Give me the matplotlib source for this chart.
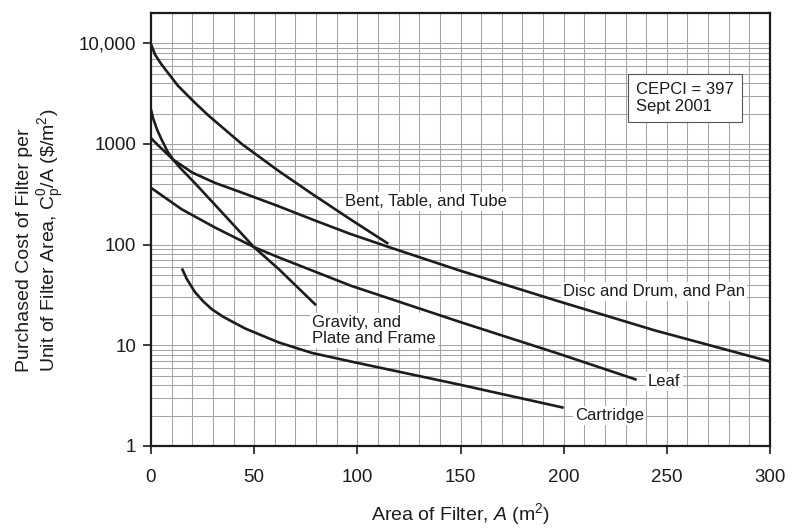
import numpy as np
import matplotlib
matplotlib.use("Agg")
import matplotlib.pyplot as plt
from matplotlib.ticker import LogLocator, FixedLocator, FixedFormatter, NullFormatter

plt.rcParams["font.family"] = ["Liberation Sans", "DejaVu Sans"]
plt.rcParams["mathtext.fontset"] = "custom"
plt.rcParams["mathtext.rm"] = "Liberation Sans"
plt.rcParams["mathtext.it"] = "Liberation Sans:italic"
plt.rcParams["mathtext.bf"] = "Liberation Sans:bold"

# Purchased cost per unit filter area ($/m^2) against filter area (m^2)
bent_area = [0, 2, 5, 13, 21, 28, 44, 62, 78, 96, 115]
bent_cost = [9800, 7700, 6200, 3800, 2600, 1905, 1000, 537, 320, 182, 102]

disc_area = [0, 3.5, 10.7, 20, 31, 46, 62, 80, 96.5, 115, 150, 196, 244, 300]
disc_cost = [1140, 968, 700, 520, 411, 318, 240, 172, 128, 95, 55, 28, 14.1, 6.9]

gravity_area = [0, 1, 3, 5, 8, 10.7, 14, 21, 30, 40, 50, 62, 80]
gravity_cost = [2200, 1800, 1380, 1120, 843, 700, 583, 414, 262, 157, 94, 57, 25]

leaf_area = [0, 14.8, 31, 50.2, 61.7, 97, 150, 198, 235.4]
leaf_cost = [367, 225, 148, 94, 75, 39, 17, 8.2, 4.55]

cartridge_area = [15, 17.3, 21.3, 25.4, 29.4, 35, 45.6, 61.8, 78, 97, 150, 200]
cartridge_cost = [58, 45.8, 33.8, 27.2, 22.9, 19.2, 14.7, 10.7, 8.4, 6.9, 4.05, 2.4]

x_ticks = [0, 50, 100, 150, 200, 250, 300]
y_ticks = [1, 10, 100, 1000, 10000]
y_tick_labels = ["1", "10", "100", "1000", "10,000"]

ink = "#1c1c1c"
grid_c = "#a4a4a4"

fig = plt.figure(figsize=(7.92, 5.31), dpi=100)
ax = fig.add_axes([151 / 792, (531 - 446) / 531, (770 - 151) / 792, (446 - 13) / 531])

ax.set_yscale("log")
ax.set_xlim(0, 300)
ax.set_ylim(1, 20000)

# graph-paper grid: every 10 m^2 and every 1..9 step within each decade
ax.xaxis.set_major_locator(FixedLocator(x_ticks))
ax.xaxis.set_minor_locator(FixedLocator(np.arange(0, 301, 10)))
ax.yaxis.set_major_locator(FixedLocator(y_ticks))
ax.yaxis.set_major_formatter(FixedFormatter(y_tick_labels))
ax.yaxis.set_minor_locator(LogLocator(base=10, subs=np.arange(1, 10), numticks=20))
ax.yaxis.set_minor_formatter(NullFormatter())
ax.grid(True, which="both", color=grid_c, linewidth=0.75)
ax.set_axisbelow(True)

ax.tick_params(which="major", direction="out", length=5.5, width=1.2, color=ink,
               labelsize=13.5, labelcolor=ink)
ax.tick_params(axis="x", which="major", pad=11)
ax.tick_params(axis="y", which="major", pad=5)
ax.tick_params(which="minor", length=0)
for s in ax.spines.values():
    s.set_linewidth(1.6)
    s.set_color(ink)

lw = 1.9
for xs, ys in [(bent_area, bent_cost), (disc_area, disc_cost), (gravity_area, gravity_cost),
               (leaf_area, leaf_cost), (cartridge_area, cartridge_cost)]:
    ax.plot(xs, ys, color=ink, linewidth=lw, solid_capstyle="butt", zorder=3)

lab = dict(fontsize=12, color=ink, ha="left", va="center", zorder=2.5,
           bbox=dict(facecolor="white", edgecolor="none", pad=1.5))
ax.text(94.1, 267, "Bent, Table, and Tube", **lab)
ax.text(78, 14.1, "Gravity, and\nPlate and Frame", linespacing=1.05, **lab)
ax.text(199.8, 33.9, "Disc and Drum, and Pan", **lab)
ax.text(240.9, 4.37, "Leaf", **lab)
ax.text(205.6, 2.01, "Cartridge", **lab)

ax.text(235.1, 2862, "CEPCI = 397\nSept 2001", fontsize=12, color=ink, ha="left",
        va="center", linespacing=1.12, zorder=2.5,
        bbox=dict(boxstyle="square,pad=0.5", facecolor="white", edgecolor="#555555",
                  linewidth=0.8))

ax.set_xlabel(r"Area of Filter, $A$ (m$^{2}$)", fontsize=14, color=ink, labelpad=11)
fig.text(41 / 792, 1 - 240 / 531,
         "Purchased Cost of Filter per\n"
         r"Unit of Filter Area, $\mathrm{C_p^0}$/A (\$/m$^{2}$)",
         rotation=90, fontsize=14, color=ink, ha="center", va="center",
         multialignment="left", linespacing=1.2)

fig.savefig("out.png", dpi=100)
